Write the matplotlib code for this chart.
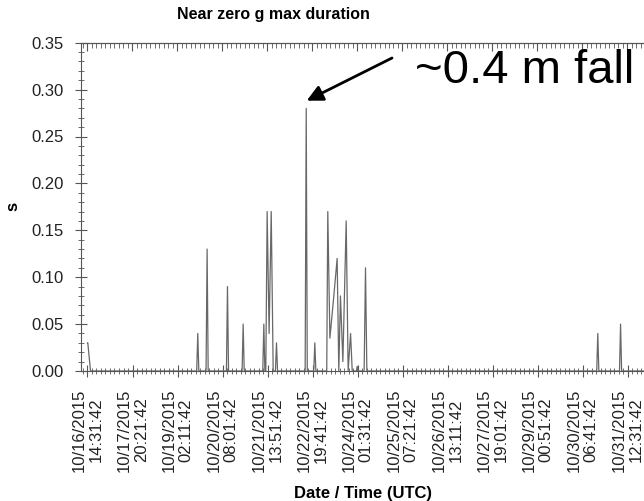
import numpy as np
import matplotlib.pyplot as plt
from matplotlib.ticker import MultipleLocator, FixedLocator

plt.rcParams['font.family'] = ['Liberation Sans', 'DejaVu Sans']

# hours since 10/16/2015 14:31:42 UTC
hours = [0.0, 0.2, 2.0,
         72.4, 73.1, 73.8,
         78.6, 79.3, 80.0,
         92.1, 92.8, 93.5,
         102.5, 103.2, 103.9,
         116.2, 116.9, 117.6, 118.2, 119.1, 120.4, 121.8, 123.1,
         124.6, 125.3, 126.0,
         144.3, 145.0, 145.7,
         150.0, 150.7, 151.4,
         158.6, 159.3, 160.7, 163.3, 165.5, 166.6, 167.7, 169.3, 171.5, 172.8,
         174.4, 175.5,
         178.3, 178.8, 179.3,
         183.4, 184.3, 185.2,
         337.6, 338.3, 339.0,
         352.7, 353.4, 354.1,
         370.0]
duration = [0.03, 0.03, 0.0,
            0.0, 0.04, 0.0,
            0.0, 0.13, 0.0,
            0.0, 0.09, 0.0,
            0.0, 0.05, 0.0,
            0.0, 0.05, 0.0, 0.0, 0.17, 0.04, 0.17, 0.0,
            0.0, 0.03, 0.0,
            0.0, 0.28, 0.0,
            0.0, 0.03, 0.0,
            0.0, 0.17, 0.035, 0.08, 0.12, 0.0, 0.08, 0.01, 0.16, 0.0,
            0.04, 0.0,
            0.0, 0.005, 0.0,
            0.0, 0.11, 0.0,
            0.0, 0.04, 0.0,
            0.0, 0.05, 0.0,
            0.0]

tick_step = 29.8333  # 1 day 5:50:00
tick_labels = ['10/16/2015\n14:31:42', '10/17/2015\n20:21:42', '10/19/2015\n02:11:42',
               '10/20/2015\n08:01:42', '10/21/2015\n13:51:42', '10/22/2015\n19:41:42',
               '10/24/2015\n01:31:42', '10/25/2015\n07:21:42', '10/26/2015\n13:11:42',
               '10/27/2015\n19:01:42', '10/29/2015\n00:51:42', '10/30/2015\n06:41:42',
               '10/31/2015\n12:31:42']
y_ticks = [0.00, 0.05, 0.10, 0.15, 0.20, 0.25, 0.30, 0.35]

W, H = 644, 501
ax_left, ax_top, ax_bottom = 81, 42.7, 371
x0_px, px_per_tick = 87.5, 45.0

fig = plt.figure(figsize=(W / 100, H / 100), dpi=100)
ax = fig.add_axes([ax_left / W, 1 - ax_bottom / H, 1 - ax_left / W, (ax_bottom - ax_top) / H])

ax.plot(hours, duration, color='#686868', lw=0.9)

hrs_per_px = tick_step / px_per_tick
ax.set_xlim(-(x0_px - ax_left) * hrs_per_px, (W - x0_px) * hrs_per_px)
ax.set_ylim(0, 0.35)

major = [i * tick_step for i in range(len(tick_labels))]
ax.xaxis.set_major_locator(FixedLocator(major))
ax.xaxis.set_minor_locator(MultipleLocator(tick_step / 10))
ax.set_xticklabels(tick_labels, rotation=90, ha='center', va='top',
                   multialignment='center', fontsize=12, color='#222222')
ax.set_yticks(y_ticks)
ax.set_yticklabels([f'{v:.2f}' for v in y_ticks], fontsize=12, color='#222222')
ax.yaxis.set_minor_locator(MultipleLocator(0.01))

ax.spines['right'].set_visible(False)
for s in ['left', 'bottom', 'top']:
    ax.spines[s].set_color('#555555')
    ax.spines[s].set_linewidth(0.8)

ax.tick_params(axis='both', which='major', direction='inout', length=9,
               width=0.8, color='#555555')
ax.tick_params(axis='both', which='minor', direction='inout', length=5,
               width=0.6, color='#555555')
ax.tick_params(axis='x', which='major', pad=8)
ax.tick_params(axis='y', which='major', pad=8)

# top axis: inward ticks only
top = ax.secondary_xaxis('top')
top.xaxis.set_major_locator(FixedLocator(major))
top.xaxis.set_minor_locator(MultipleLocator(tick_step / 10))
top.set_xticklabels([])
top.tick_params(which='major', direction='in', length=6, width=0.8, color='#555555')
top.tick_params(which='minor', direction='in', length=3.5, width=0.6, color='#555555')
top.spines['top'].set_color('#555555')
top.spines['top'].set_linewidth(0.8)

ax.set_xlabel('Date / Time (UTC)', fontsize=12, fontweight='bold', labelpad=10)
ax.set_ylabel('s', fontsize=12, fontweight='bold', labelpad=8)

fig.text(273 / W, 1 - 15 / H, 'Near zero g max duration', ha='center',
         va='center', fontsize=11.5, fontweight='bold')

fig.text(415 / W, 1 - 83 / H, '~0.4 m fall', fontsize=34, ha='left', va='baseline')
ax.annotate('', xy=(306.7 / W, 1 - 100.7 / H), xytext=(392 / W, 1 - 58 / H),
            xycoords='figure fraction', textcoords='figure fraction',
            arrowprops=dict(arrowstyle='-|>', color='black', lw=2,
                            mutation_scale=24, shrinkA=0, shrinkB=0))

fig.savefig('out.png', dpi=100)
